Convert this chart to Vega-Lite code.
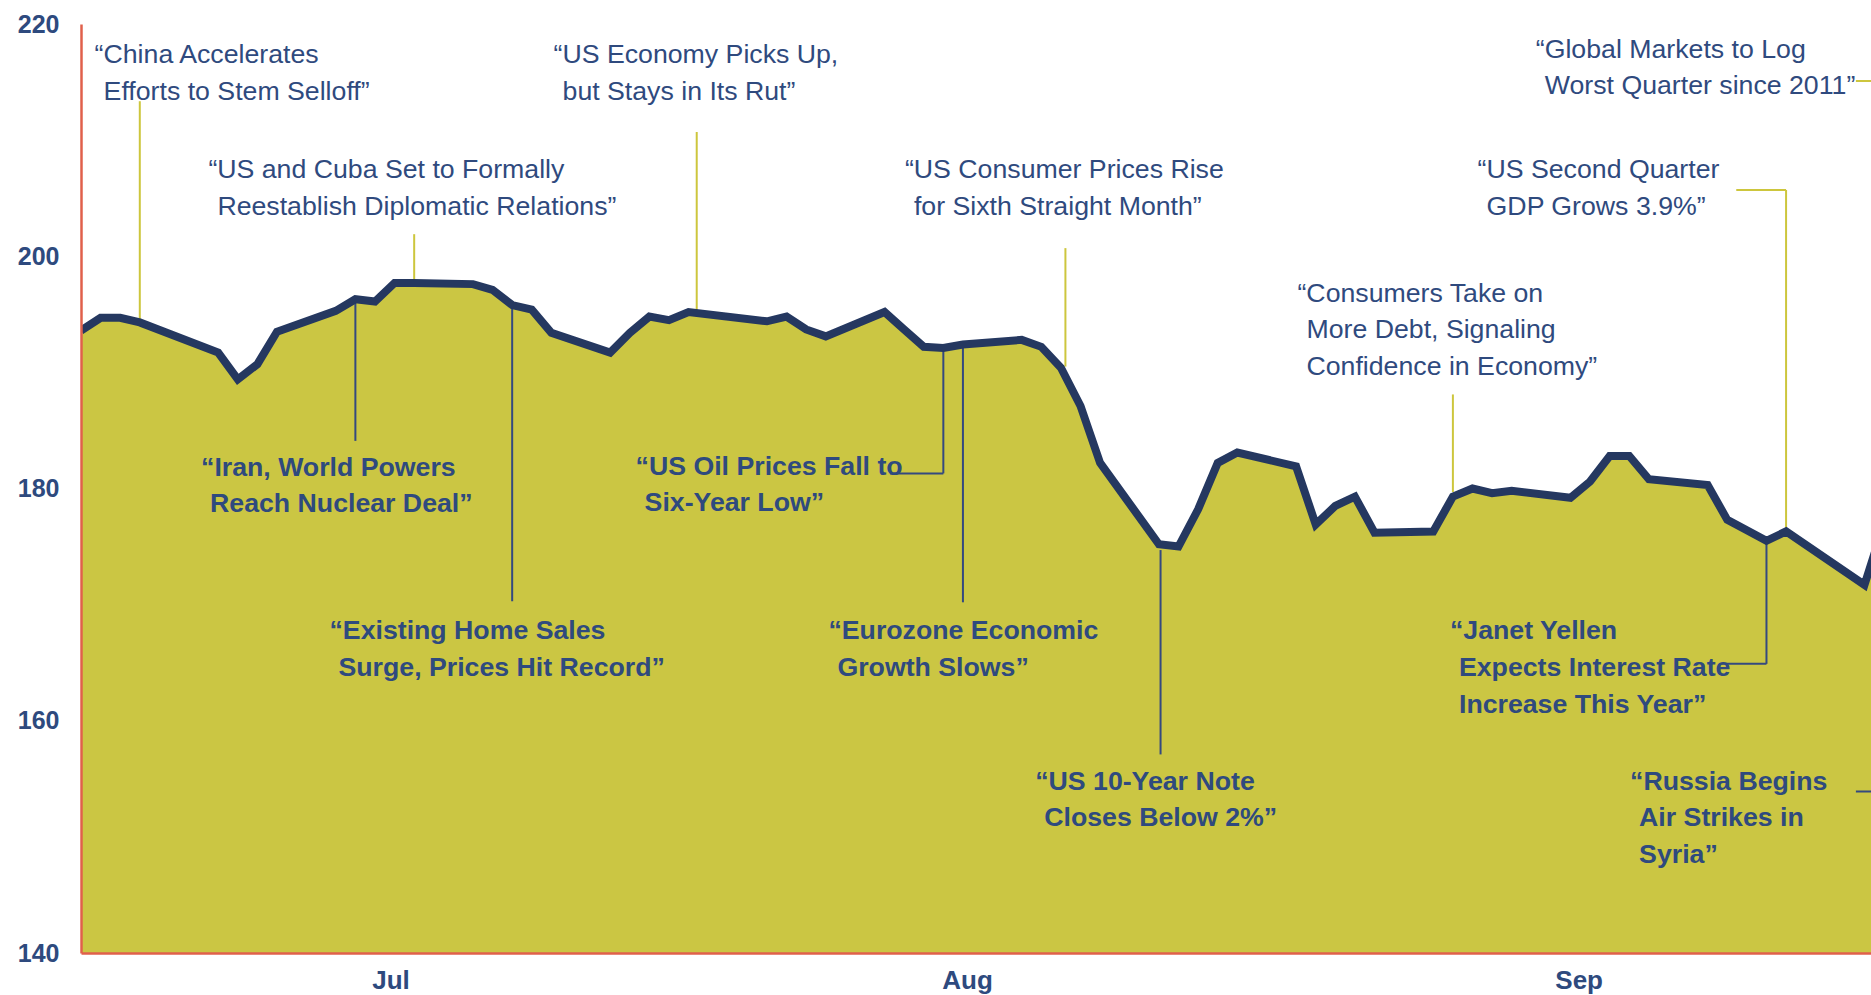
{
  "$schema": "https://vega.github.io/schema/vega-lite/v6.json",
  "width": 1790,
  "height": 929,
  "autosize": {"type": "none"},
  "padding": {"left": 81, "top": 24, "right": 0, "bottom": 42},
  "background": "white",
  "config": {"view": {"stroke": null}, "font": "Liberation Sans"},
  "datasets": {
    "series": [
      {"date": "2015-06-30", "value": 193.6},
      {"date": "2015-07-01", "value": 194.7},
      {"date": "2015-07-02", "value": 194.7},
      {"date": "2015-07-03", "value": 194.3},
      {"date": "2015-07-07", "value": 191.7},
      {"date": "2015-07-08", "value": 189.4},
      {"date": "2015-07-09", "value": 190.7},
      {"date": "2015-07-10", "value": 193.5},
      {"date": "2015-07-13", "value": 195.3},
      {"date": "2015-07-14", "value": 196.3},
      {"date": "2015-07-15", "value": 196.1},
      {"date": "2015-07-16", "value": 197.7},
      {"date": "2015-07-17", "value": 197.7},
      {"date": "2015-07-20", "value": 197.6},
      {"date": "2015-07-21", "value": 197.1},
      {"date": "2015-07-22", "value": 195.8},
      {"date": "2015-07-23", "value": 195.4},
      {"date": "2015-07-24", "value": 193.4},
      {"date": "2015-07-27", "value": 191.7},
      {"date": "2015-07-28", "value": 193.4},
      {"date": "2015-07-29", "value": 194.8},
      {"date": "2015-07-30", "value": 194.5},
      {"date": "2015-07-31", "value": 195.2},
      {"date": "2015-08-04", "value": 194.4},
      {"date": "2015-08-05", "value": 194.8},
      {"date": "2015-08-06", "value": 193.7},
      {"date": "2015-08-07", "value": 193.1},
      {"date": "2015-08-10", "value": 195.2},
      {"date": "2015-08-11", "value": 193.7},
      {"date": "2015-08-12", "value": 192.2},
      {"date": "2015-08-13", "value": 192.1},
      {"date": "2015-08-14", "value": 192.4},
      {"date": "2015-08-17", "value": 192.8},
      {"date": "2015-08-18", "value": 192.2},
      {"date": "2015-08-19", "value": 190.4},
      {"date": "2015-08-20", "value": 187.1},
      {"date": "2015-08-21", "value": 182.2},
      {"date": "2015-08-24", "value": 175.2},
      {"date": "2015-08-25", "value": 175.0},
      {"date": "2015-08-26", "value": 178.2},
      {"date": "2015-08-27", "value": 182.2},
      {"date": "2015-08-28", "value": 183.1},
      {"date": "2015-08-31", "value": 181.9},
      {"date": "2015-09-01", "value": 176.9},
      {"date": "2015-09-02", "value": 178.5},
      {"date": "2015-09-03", "value": 179.3},
      {"date": "2015-09-04", "value": 176.2},
      {"date": "2015-09-07", "value": 176.3},
      {"date": "2015-09-08", "value": 179.3},
      {"date": "2015-09-09", "value": 180.0},
      {"date": "2015-09-10", "value": 179.6},
      {"date": "2015-09-11", "value": 179.8},
      {"date": "2015-09-14", "value": 179.2},
      {"date": "2015-09-15", "value": 180.6},
      {"date": "2015-09-16", "value": 182.8},
      {"date": "2015-09-17", "value": 182.8},
      {"date": "2015-09-18", "value": 180.8},
      {"date": "2015-09-21", "value": 180.3},
      {"date": "2015-09-22", "value": 177.3},
      {"date": "2015-09-23", "value": 176.4},
      {"date": "2015-09-24", "value": 175.5},
      {"date": "2015-09-25", "value": 176.3},
      {"date": "2015-09-29", "value": 171.7},
      {"date": "2015-09-30", "value": 177.0}
    ],
    "links": [
      {"kind": "above", "date": "2015-07-03", "date2": "2015-07-03", "value": 213.35, "value2": 194.4},
      {"kind": "above", "date": "2015-07-17", "date2": "2015-07-17", "value": 201.9, "value2": 197.4},
      {"kind": "above", "date": "2015-07-31T10:00:00Z", "date2": "2015-07-31T10:00:00Z", "value": 210.7, "value2": 195.2},
      {"kind": "above", "date": "2015-08-19T05:30:00Z", "date2": "2015-08-19T05:30:00Z", "value": 200.7, "value2": 190.5},
      {"kind": "above", "date": "2015-09-08", "date2": "2015-09-08", "value": 188.1, "value2": 179.7},
      {"kind": "above", "date": "2015-09-25", "date2": "2015-09-25", "value": 205.7, "value2": 176.3},
      {"kind": "above", "date": "2015-09-22T11:00:00Z", "date2": "2015-09-25", "value": 205.7, "value2": 205.7},
      {"kind": "above", "date": "2015-09-28T13:30:00Z", "date2": "2015-10-02", "value": 215.1, "value2": 215.1},
      {"kind": "inside", "date": "2015-07-14", "date2": "2015-07-14", "value": 196.3, "value2": 184.1},
      {"kind": "inside", "date": "2015-07-22", "date2": "2015-07-22", "value": 195.8, "value2": 170.3},
      {"kind": "inside", "date": "2015-08-13", "date2": "2015-08-13", "value": 191.9, "value2": 181.3},
      {"kind": "inside", "date": "2015-08-10T06:40:00Z", "date2": "2015-08-13", "value": 181.3, "value2": 181.3},
      {"kind": "inside", "date": "2015-08-14", "date2": "2015-08-14", "value": 192.1, "value2": 170.2},
      {"kind": "inside", "date": "2015-08-24T02:00:00Z", "date2": "2015-08-24T02:00:00Z", "value": 174.7, "value2": 157.1},
      {"kind": "inside", "date": "2015-09-24", "date2": "2015-09-24", "value": 175.5, "value2": 164.9},
      {"kind": "inside", "date": "2015-09-21T17:00:00Z", "date2": "2015-09-24", "value": 164.9, "value2": 164.9},
      {"kind": "inside", "date": "2015-09-28T13:30:00Z", "date2": "2015-10-02", "value": 153.9, "value2": 153.9}
    ],
    "notes": [
      {"kind": "above", "date": "2015-06-30T16:40:00Z", "value": 216.6, "head": "“China Accelerates", "rest": "Efforts to Stem Selloff”"},
      {"kind": "above", "date": "2015-07-06T12:00:00Z", "value": 206.75, "head": "“US and Cuba Set to Formally", "rest": "Reestablish Diplomatic Relations”"},
      {"kind": "above", "date": "2015-07-24T02:40:00Z", "value": 216.6, "head": "“US Economy Picks Up,", "rest": "but Stays in Its Rut”"},
      {"kind": "above", "date": "2015-08-11T01:00:00Z", "value": 206.75, "head": "“US Consumer Prices Rise", "rest": "for Sixth Straight Month”"},
      {"kind": "above", "date": "2015-09-12T05:30:00Z", "value": 217.1, "head": "“Global Markets to Log", "rest": "Worst Quarter since 2011”"},
      {"kind": "above", "date": "2015-09-09T06:15:00Z", "value": 206.75, "head": "“US Second Quarter", "rest": "GDP Grows 3.9%”"},
      {"kind": "above", "date": "2015-08-31T01:40:00Z", "value": 196.1, "head": "“Consumers Take on", "rest": "More Debt, Signaling\nConfidence in Economy”"},
      {"kind": "inside", "date": "2015-07-06T03:00:00Z", "value": 181.1, "head": "“Iran, World Powers", "rest": "Reach Nuclear Deal”"},
      {"kind": "inside", "date": "2015-07-12T16:20:00Z", "value": 167.0, "head": "“Existing Home Sales", "rest": "Surge, Prices Hit Record”"},
      {"kind": "inside", "date": "2015-07-28T07:10:00Z", "value": 181.2, "head": "“US Oil Prices Fall to", "rest": "Six-Year Low”"},
      {"kind": "inside", "date": "2015-08-07T03:20:00Z", "value": 167.0, "head": "“Eurozone Economic", "rest": "Growth Slows”"},
      {"kind": "inside", "date": "2015-08-17T16:30:00Z", "value": 154.07, "head": "“US 10-Year Note", "rest": "Closes Below 2%”"},
      {"kind": "inside", "date": "2015-09-07T20:25:00Z", "value": 167.0, "head": "“Janet Yellen", "rest": "Expects Interest Rate\nIncrease This Year”"},
      {"kind": "inside", "date": "2015-09-17T01:00:00Z", "value": 154.07, "head": "“Russia Begins", "rest": "Air Strikes in\nSyria”"}
    ]
  },
  "encoding": {
    "x": {
      "field": "date",
      "type": "temporal",
      "scale": {
        "type": "utc",
        "domain": [
          {"year": 2015, "month": 6, "date": 30, "utc": true},
          {"year": 2015, "month": 9, "date": 29, "hours": 8, "utc": true}
        ]
      },
      "axis": {
        "title": null,
        "values": [
          {"year": 2015, "month": 7, "date": 15, "hours": 19, "utc": true},
          {"year": 2015, "month": 8, "date": 14, "hours": 5, "utc": true},
          {"year": 2015, "month": 9, "date": 14, "hours": 10, "utc": true}
        ],
        "labelExpr": "utcFormat(datum.value, '%b')",
        "ticks": false,
        "grid": false,
        "domainColor": "#e0604b",
        "domainWidth": 2.5,
        "labelFont": "Liberation Sans",
        "labelFontWeight": "bold",
        "labelFontSize": 26,
        "labelColor": "#2e4a7e",
        "labelPadding": 14,
        "labelFlush": false,
        "labelOverlap": false,
        "zindex": 1
      }
    },
    "y": {
      "field": "value",
      "type": "quantitative",
      "scale": {"domain": [140, 220], "zero": false, "nice": false},
      "axis": {
        "title": null,
        "values": [140, 160, 180, 200, 220],
        "ticks": false,
        "grid": false,
        "domainColor": "#e0604b",
        "domainWidth": 2.5,
        "labelFont": "Liberation Sans",
        "labelFontWeight": "bold",
        "labelFontSize": 25,
        "labelColor": "#2e4a7e",
        "labelPadding": 22,
        "labelFlush": false,
        "labelOverlap": false,
        "zindex": 1
      }
    }
  },
  "layer": [
    {
      "data": {"name": "series"},
      "mark": {"type": "area", "color": "#cbc643", "clip": true},
      "encoding": {"y2": {"datum": 140}}
    },
    {
      "data": {"name": "links"},
      "mark": {"type": "rule", "strokeWidth": 2, "clip": true},
      "encoding": {
        "x2": {"field": "date2"},
        "y2": {"field": "value2"},
        "color": {
          "field": "kind",
          "type": "nominal",
          "scale": {"domain": ["above", "inside"], "range": ["#cdc63d", "#34497f"]},
          "legend": null
        }
      }
    },
    {
      "data": {"name": "series"},
      "mark": {"type": "line", "color": "#253860", "strokeWidth": 8, "strokeJoin": "miter", "strokeMiterLimit": 4, "clip": true},
      "encoding": {}
    },
    {
      "data": {"name": "notes"},
      "transform": [{"filter": "datum.kind == 'above'"}],
      "mark": {"type": "text", "align": "left", "baseline": "alphabetic", "font": "Liberation Sans", "fontSize": 26.7, "color": "#2f4a7e"},
      "encoding": {"text": {"field": "head"}}
    },
    {
      "data": {"name": "notes"},
      "transform": [{"filter": "datum.kind == 'above'"}],
      "mark": {"type": "text", "align": "left", "baseline": "alphabetic", "font": "Liberation Sans", "fontSize": 26.7, "lineHeight": 36.7, "lineBreak": "\n", "dx": 9, "dy": 36.7, "color": "#2f4a7e"},
      "encoding": {"text": {"field": "rest"}}
    },
    {
      "data": {"name": "notes"},
      "transform": [{"filter": "datum.kind == 'inside'"}],
      "mark": {"type": "text", "align": "left", "baseline": "alphabetic", "font": "Liberation Sans", "fontSize": 26.7, "fontWeight": "bold", "color": "#2f4a7e"},
      "encoding": {"text": {"field": "head"}}
    },
    {
      "data": {"name": "notes"},
      "transform": [{"filter": "datum.kind == 'inside'"}],
      "mark": {"type": "text", "align": "left", "baseline": "alphabetic", "font": "Liberation Sans", "fontSize": 26.7, "fontWeight": "bold", "lineHeight": 36.7, "lineBreak": "\n", "dx": 9, "dy": 36.7, "color": "#2f4a7e"},
      "encoding": {"text": {"field": "rest"}}
    }
  ]
}
